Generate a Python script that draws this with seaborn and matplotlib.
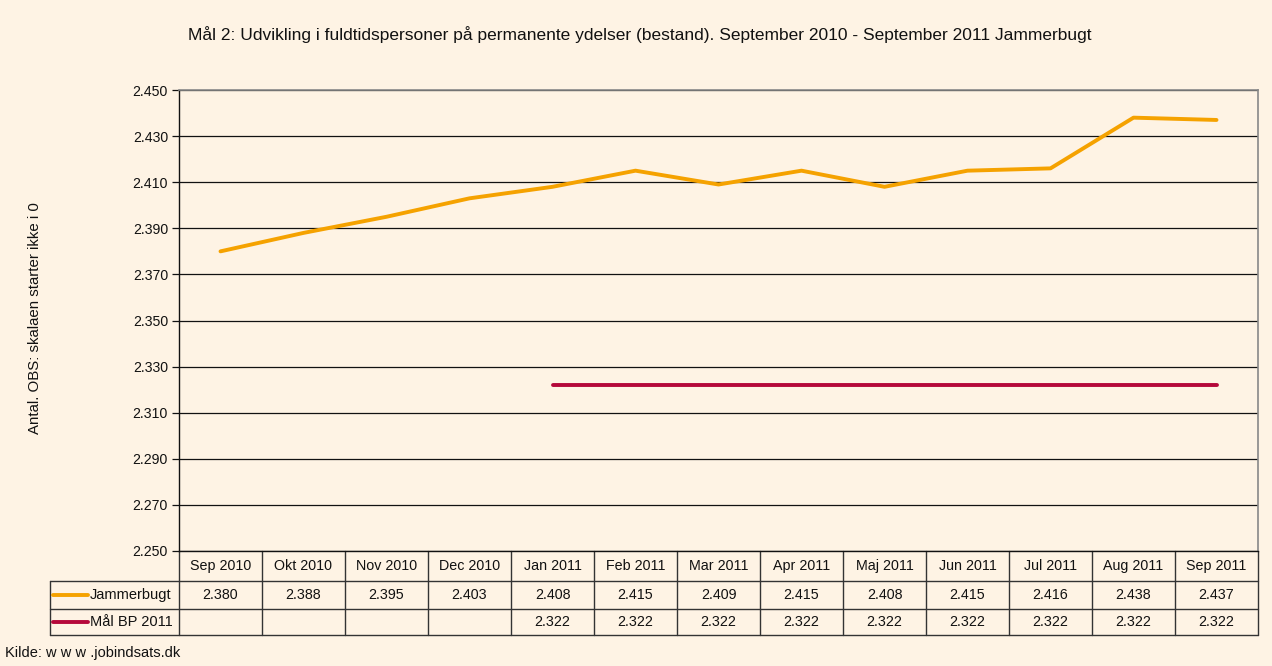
import matplotlib
matplotlib.use("Agg")
import matplotlib.pyplot as plt
import matplotlib.transforms as mtransforms
from matplotlib.lines import Line2D
import seaborn as sns
import pandas as pd
import numpy as np

months = ["Sep 2010", "Okt 2010", "Nov 2010", "Dec 2010", "Jan 2011", "Feb 2011", "Mar 2011",
          "Apr 2011", "Maj 2011", "Jun 2011", "Jul 2011", "Aug 2011", "Sep 2011"]
jammerbugt = [2380, 2388, 2395, 2403, 2408, 2415, 2409, 2415, 2408, 2415, 2416, 2438, 2437]
maal_bp = [None, None, None, None, 2322, 2322, 2322, 2322, 2322, 2322, 2322, 2322, 2322]
series_names = ["Jammerbugt", "Mål BP 2011"]
series_colors = ["#F5A200", "#B5083A"]
yticks = [2250, 2270, 2290, 2310, 2330, 2350, 2370, 2390, 2410, 2430, 2450]

title = "Mål 2: Udvikling i fuldtidspersoner på permanente ydelser (bestand). September 2010 - September 2011 Jammerbugt"
ylabel = "Antal. OBS: skalaen starter ikke i 0"
source = "Kilde: w w w .jobindsats.dk"

sns.set_theme(style="white")
plt.rcParams["font.family"] = ["Liberation Sans", "DejaVu Sans"]

BG = "#FEF3E4"
W, H = 1272, 666
fig = plt.figure(figsize=(W / 100, H / 100), dpi=100, facecolor=BG)
left_px, right_px, top_px, bottom_px = 179, 1258, 90, 551
ax = fig.add_axes([left_px / W, 1 - bottom_px / H, (right_px - left_px) / W, (bottom_px - top_px) / H])
ax.set_facecolor(BG)

df = pd.DataFrame({
    "x": list(range(len(months))) * 2,
    "value": jammerbugt + maal_bp,
    "serie": [series_names[0]] * len(months) + [series_names[1]] * len(months),
})
df = df.dropna()
sns.lineplot(data=df, x="x", y="value", hue="serie", palette=dict(zip(series_names, series_colors)),
             linewidth=2.8, legend=False, ax=ax, solid_capstyle="round")

ax.set_xlim(-0.5, len(months) - 0.5)
ax.set_ylim(yticks[0], yticks[-1])
ax.set_yticks(yticks)
ax.set_yticklabels([f"{v/1000:.3f}" for v in yticks], fontsize=10.2, color="#111111")
ax.set_xticks([])
ax.set_xlabel("")
ax.set_ylabel("")
for v in yticks:
    ax.axhline(v, color="#111111", lw=0.9, zorder=0)
ax.tick_params(axis="y", which="both", left=True, length=5, width=0.9, color="#111111", pad=3, direction="out")
for s in ["left", "bottom"]:
    ax.spines[s].set_color("#111111")
    ax.spines[s].set_linewidth(1.0)
for s in ["top", "right"]:
    ax.spines[s].set_color("#888888")
    ax.spines[s].set_linewidth(1.2)

# Data table below the axis
ah = bottom_px - top_px
def fy(px):
    return -(px - bottom_px) / ah
tr = mtransforms.blended_transform_factory(ax.transData, ax.transAxes)
tra = ax.transAxes
rows_px = [551, 581, 609, 635]
y_rows = [fy(p) for p in rows_px]
n = len(months)
lc = "#333333"
fs_tab = 10.3
for i, yy in enumerate(y_rows[1:], start=1):
    ax.add_line(Line2D([(50 - left_px) / (right_px - left_px), 1], [yy, yy], transform=tra,
                       color=lc, lw=1.0, clip_on=False))
for k in range(n + 1):
    xx = k - 0.5
    ax.add_line(Line2D([xx, xx], [y_rows[0], y_rows[3]], transform=tr, color=lc, lw=1.0, clip_on=False))
lx = (50 - left_px) / (right_px - left_px)
ax.add_line(Line2D([lx, lx], [y_rows[1], y_rows[3]], transform=tra, color=lc, lw=1.0, clip_on=False))

for k, m in enumerate(months):
    ax.text(k, (y_rows[0] + y_rows[1]) / 2, m, transform=tr, ha="center", va="center", fontsize=fs_tab, color="#111111")
    ax.text(k, (y_rows[1] + y_rows[2]) / 2, f"{jammerbugt[k]/1000:.3f}", transform=tr,
            ha="center", va="center", fontsize=fs_tab, color="#111111")
    if maal_bp[k] is not None:
        ax.text(k, (y_rows[2] + y_rows[3]) / 2, f"{maal_bp[k]/1000:.3f}", transform=tr,
                ha="center", va="center", fontsize=fs_tab, color="#111111")

for i, (name, col) in enumerate(zip(series_names, series_colors)):
    yc = (y_rows[i + 1] + y_rows[i + 2]) / 2
    x0 = (53 - left_px) / (right_px - left_px)
    x1 = (88 - left_px) / (right_px - left_px)
    ax.add_line(Line2D([x0, x1], [yc, yc], transform=tra, color=col, lw=2.8, clip_on=False,
                       solid_capstyle="round"))
    ax.text((90 - left_px) / (right_px - left_px), yc, name, transform=tra, ha="left", va="center",
            fontsize=10.5, color="#111111")

fig.text(640 / W, 1 - 35 / H, title, ha="center", va="center", fontsize=12.5, color="#111111")
fig.text(35 / W, 1 - 318 / H, ylabel, ha="center", va="center", rotation=90, fontsize=10.8, color="#111111")
fig.text(5 / W, 1 - 653 / H, source, ha="left", va="center", fontsize=10.5, color="#111111")

fig.savefig("out.png", dpi=100, facecolor=BG)
